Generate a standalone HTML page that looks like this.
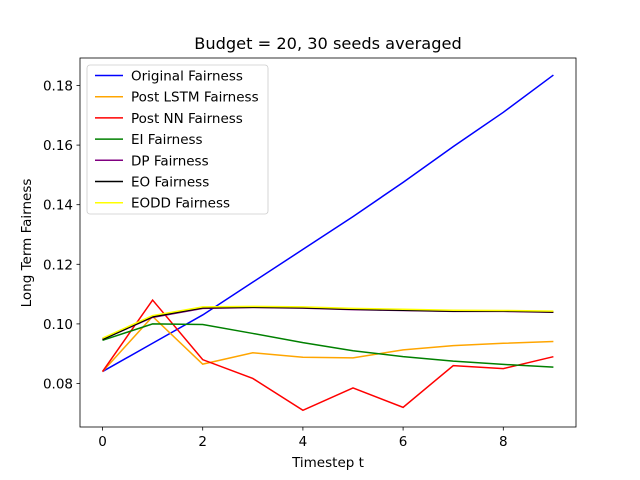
<!DOCTYPE html>
<html><head><meta charset="utf-8"><style>
body{margin:0;background:#fff;}
svg{display:block;font-family:"DejaVu Sans","Liberation Sans",sans-serif;}
</style></head><body>
<svg id="chart" width="640" height="480">
<rect x="0" y="0" width="640" height="480" fill="#fff"/>
<g id="ticks"></g>
<g id="lines"></g>
<rect x="80" y="58" width="496" height="369" fill="none" stroke="#000" stroke-width="0.8"/>
<text x="328" y="49" text-anchor="middle" font-size="16.2">Budget = 20, 30 seeds averaged</text>
<text x="328" y="467" text-anchor="middle" font-size="13.5">Timestep t</text>
<text transform="translate(31,243) rotate(-90)" text-anchor="middle" font-size="13.5">Long Term Fairness</text>
<g id="legend"></g>
</svg>
<script>
const timesteps=[0,1,2,3,4,5,6,7,8,9];
const seriesNames=["Original Fairness","Post LSTM Fairness","Post NN Fairness","EI Fairness","DP Fairness","EO Fairness","EODD Fairness"];
const seriesColors=["blue","orange","red","green","purple","black","yellow"];
const originalVals=[0.084,0.0935,0.103,0.114,0.125,0.136,0.1475,0.1595,0.171,0.1835];
const lstmVals=[0.084,0.1025,0.0865,0.0903,0.0888,0.0886,0.0913,0.0927,0.0935,0.0941];
const nnVals=[0.084,0.108,0.088,0.0817,0.071,0.0785,0.072,0.086,0.085,0.089];
const eiVals=[0.0945,0.1,0.0998,0.0968,0.0937,0.091,0.089,0.0875,0.0864,0.0855];
const dpVals=[0.0948,0.1022,0.1052,0.1055,0.1053,0.1048,0.1045,0.1042,0.1042,0.1039];
const eoVals=[0.0948,0.1024,0.1054,0.1056,0.1054,0.1049,0.1046,0.1043,0.1043,0.104];
const eoddVals=[0.0952,0.1028,0.1057,0.1059,0.1057,0.1052,0.1049,0.1046,0.1045,0.1043];
const xTicks=[0,2,4,6,8];
const yTicks=[0.08,0.10,0.12,0.14,0.16,0.18];
const yTickLabels=["0.08","0.10","0.12","0.14","0.16","0.18"];
const allSeries=[originalVals,lstmVals,nnVals,eiVals,dpVals,eoVals,eoddVals];
const NS="http://www.w3.org/2000/svg";
function xs(v){return 102.5+v*50.1;}
function ys(v){return 383.5-(v-0.08)*2980;}
function mk(tag,attrs,parent){const e=document.createElementNS(NS,tag);for(const k in attrs)e.setAttribute(k,attrs[k]);parent.appendChild(e);return e;}
const tg=document.getElementById('ticks');
xTicks.forEach(t=>{
  const l=mk('line',{x1:xs(t),x2:xs(t),y1:427,y2:430.5,stroke:'#000','stroke-width':0.8},tg);
  
  
  const tx=mk('text',{x:xs(t),y:446,'text-anchor':'middle','font-size':13.5},tg);
  tx.textContent=String(t);
  
  
});
yTicks.forEach((t,i)=>{
  const l=mk('line',{x1:76.5,x2:80,y1:ys(t),y2:ys(t),stroke:'#000','stroke-width':0.8},tg);
  
  
  const tx=mk('text',{x:73,y:ys(t)+5,'text-anchor':'end','font-size':13.5},tg);
  tx.textContent=yTickLabels[i];
  
  
});
const lg=document.getElementById('lines');
allSeries.forEach((vals,i)=>{
  const p=mk('polyline',{points:vals.map((v,j)=>xs(timesteps[j])+','+ys(v)).join(' '),fill:'none',stroke:seriesColors[i],'stroke-width':1.5},lg);
  
  
});
const leg=document.getElementById('legend');
const box=mk('rect',{x:87,y:65,width:181,height:149,rx:3,fill:'#fff','fill-opacity':0.8,stroke:'#ccc','stroke-width':0.8},leg);


seriesNames.forEach((n,i)=>{
  const y=75.5+i*21.2;
  const l=mk('line',{x1:95,x2:123,y1:y,y2:y,stroke:seriesColors[i],'stroke-width':1.5},leg);
  
  
  const t=mk('text',{x:131,y:y+5,'font-size':13.5},leg);
  t.textContent=n;
  
  
});
</script>
</body></html>
